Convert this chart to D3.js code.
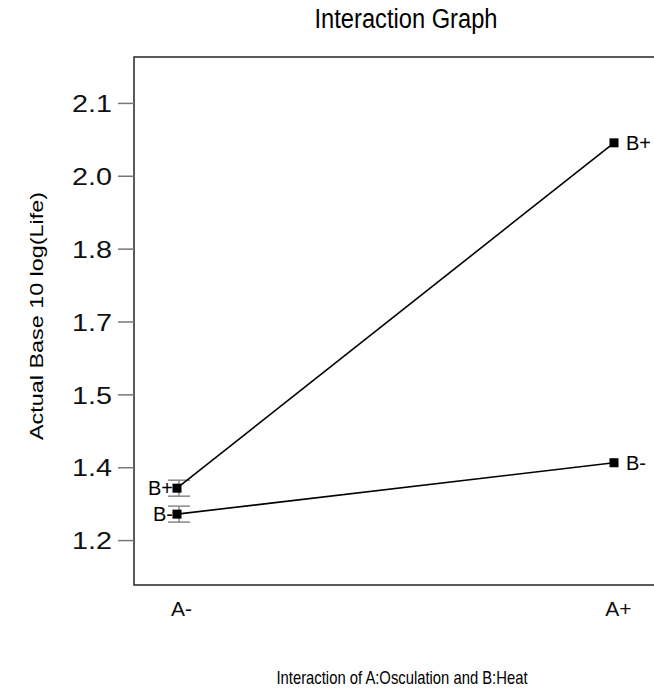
<!DOCTYPE html>
<html>
<head>
<meta charset="utf-8">
<script src="https://cdn.jsdelivr.net/npm/d3@7"></script>
<style>
  body { margin: 0; background: #fff; }
  svg { display: block; font-family: "Liberation Sans", Arial, sans-serif; }
</style>
</head>
<body>
<script>
const FACTOR_A = ['A-', 'A+'];
const SERIES = ['B+', 'B-'];
const B_PLUS = [1.344, 2.036];
const B_MINUS = [1.292, 1.395];
const LSD_HALF = [0.016, 0]; // error bar half-height, only shown at A-
const Y_TICKS = [1.24, 1.386, 1.532, 1.678, 1.824, 1.97, 2.116];

const [W, H] = [654, 691];
const FRAME = { left: 134, top: 57, right: 690, bottom: 585 };

const svg = d3.select('body').append('svg').attr('width', W).attr('height', H);

const x = d3.scalePoint().domain(FACTOR_A).range([177, 614]);
const y = d3.scaleLinear().domain([1.15, 2.208]).range([FRAME.bottom, FRAME.top]);

// title
svg.append('text')
    .attr('x', 406).attr('y', 28)
    .attr('text-anchor', 'middle')
    .style('font-size', '27px')
    .attr('textLength', 183).attr('lengthAdjust', 'spacingAndGlyphs')
    .text('Interaction Graph');

// frame
svg.append('rect')
    .attr('x', FRAME.left).attr('y', FRAME.top)
    .attr('width', FRAME.right - FRAME.left).attr('height', FRAME.bottom - FRAME.top)
    .attr('fill', 'none').attr('stroke', '#333').attr('stroke-width', 1.6);

// y axis
const yAxis = d3.axisLeft(y)
    .tickValues(Y_TICKS)
    .tickSize(16)
    .tickPadding(6)
    .tickFormat(d3.format('.1f'));

const gy = svg.append('g')
    .attr('transform', 'translate(' + FRAME.left + ',0)')
    .call(yAxis);
gy.select('.domain').remove();
gy.selectAll('line').attr('stroke', '#777').attr('stroke-width', 1.5);
gy.selectAll('text')
    .attr('fill', '#111')
    .attr('dy', '0.36em')
    .style('font-size', '24px')
    .style('font-family', '"Liberation Sans", Arial, sans-serif')
    .attr('textLength', 40).attr('lengthAdjust', 'spacingAndGlyphs');

// x category labels
const gx = svg.append('g')
    .attr('transform', 'translate(0,' + FRAME.bottom + ')')
    .call(d3.axisBottom(x).tickSize(0).tickPadding(0));
gx.select('.domain').remove();
gx.selectAll('text')
    .attr('dy', 0).attr('y', 31).attr('dx', 4)
    .attr('fill', '#111')
    .style('font-size', '21px')
    .style('font-family', '"Liberation Sans", Arial, sans-serif');

// axis titles
svg.append('text')
    .attr('x', 402).attr('y', 684)
    .attr('text-anchor', 'middle')
    .style('font-size', '19px')
    .attr('textLength', 251).attr('lengthAdjust', 'spacingAndGlyphs')
    .text('Interaction of A:Osculation and B:Heat');

svg.append('text')
    .attr('transform', 'translate(43,316) rotate(-90)')
    .attr('text-anchor', 'middle')
    .style('font-size', '18px')
    .attr('textLength', 248).attr('lengthAdjust', 'spacingAndGlyphs')
    .text('Actual Base 10 log(Life)');

const series = [
    { name: SERIES[0], values: B_PLUS },
    { name: SERIES[1], values: B_MINUS }
];

const line = d3.line()
    .x((d, i) => x(FACTOR_A[i]))
    .y(d => y(d));

// error bars
series.forEach(s => {
    s.values.forEach((v, i) => {
        if (!LSD_HALF[i]) return;
        const cx = x(FACTOR_A[i]) + 2;
        const g = svg.append('g').attr('stroke', '#888').attr('stroke-width', 1.5);
        g.append('line').attr('x1', cx).attr('x2', cx)
            .attr('y1', y(v + LSD_HALF[i])).attr('y2', y(v - LSD_HALF[i]));
        [v + LSD_HALF[i], v - LSD_HALF[i]].forEach(e => {
            g.append('line').attr('x1', cx - 11).attr('x2', cx + 11)
                .attr('y1', y(e)).attr('y2', y(e));
        });
    });
});

// lines
svg.selectAll('path.series')
    .data(series)
    .enter()
    .append('path')
    .attr('class', 'series')
    .attr('d', d => line(d.values))
    .attr('fill', 'none')
    .attr('stroke', '#000')
    .attr('stroke-width', 1.6);

// points and labels
series.forEach(s => {
    s.values.forEach((v, i) => {
        const px = x(FACTOR_A[i]), py = y(v);
        svg.append('rect')
            .attr('x', px - 4.5).attr('y', py - 4.5)
            .attr('width', 9).attr('height', 9)
            .attr('fill', '#000');
        const first = i === 0;
        svg.append('text')
            .attr('x', first ? px - 4 : px + 12)
            .attr('y', py + 7)
            .attr('text-anchor', first ? 'end' : 'start')
            .style('font-size', '20px')
            .text(s.name);
    });
});
</script>
</body>
</html>
